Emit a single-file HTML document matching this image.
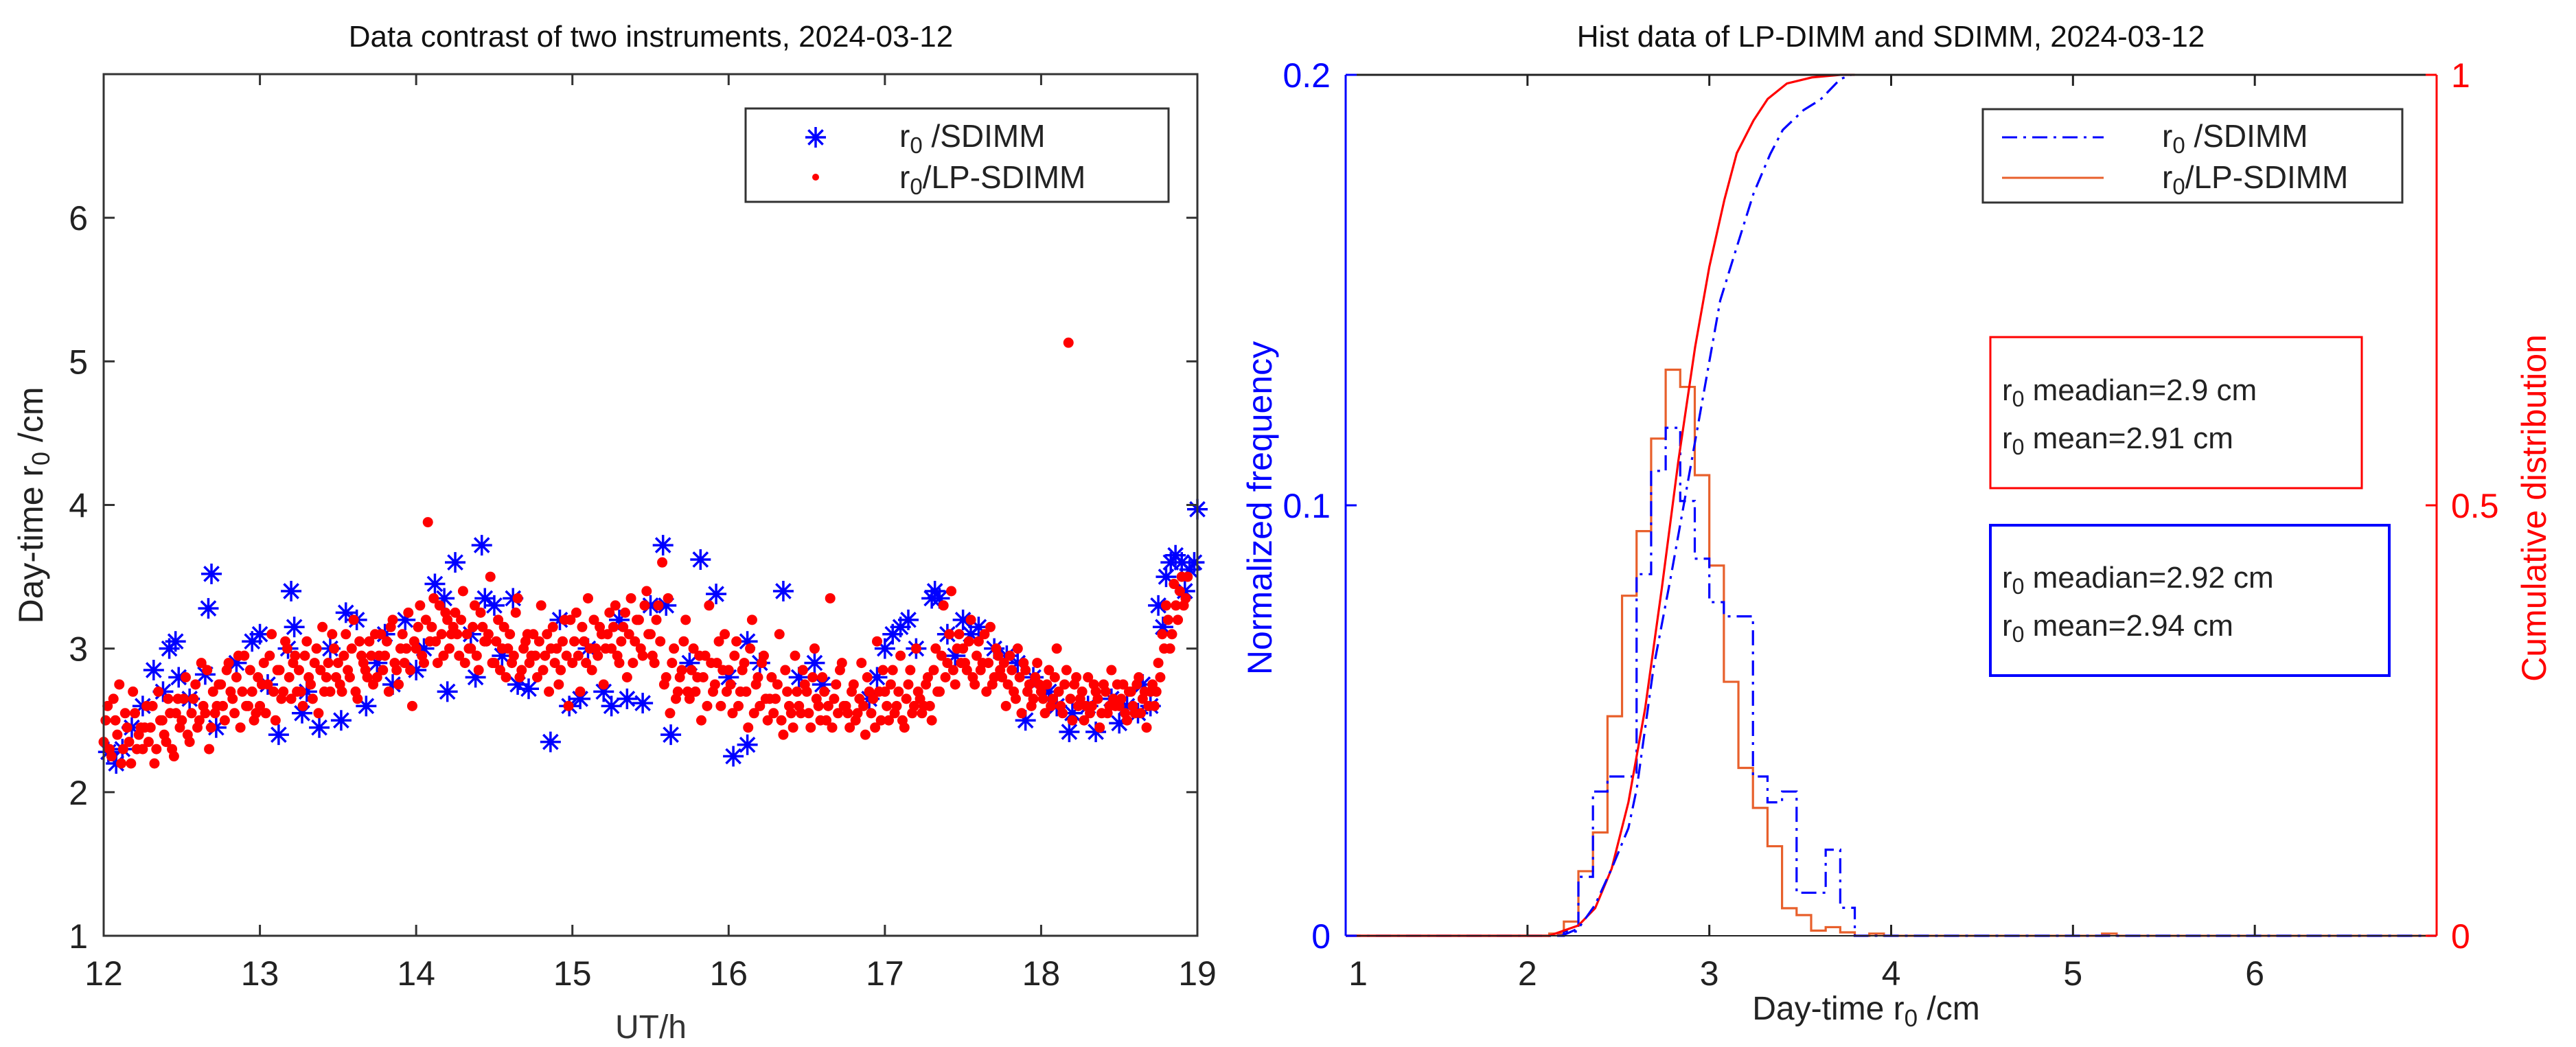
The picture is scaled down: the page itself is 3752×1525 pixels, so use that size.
<!DOCTYPE html>
<html><head><meta charset="utf-8">
<style>
html,body{margin:0;padding:0;background:#fff;}
svg{display:block;font-family:"Liberation Sans",sans-serif;}
</style></head>
<body>
<svg id="fig" width="3752" height="1525" viewBox="0 0 3752 1525" xmlns="http://www.w3.org/2000/svg">
<rect x="0" y="0" width="3752" height="1525" fill="#fff"/>
<g id="left"></g>
<g id="right"></g>
</svg>
<script>
// ---------- Left chart data ----------
const redStart = 12.0;
const redStart2 = 12.0125;
const redStep = 0.025;
const redValues = [
2.35,2.6,2.25,2.5,2.75,2.3,2.45,2.2,2.55,2.4,
2.3,2.6,2.45,2.2,2.7,2.5,2.35,2.55,2.25,2.65,
2.5,2.8,2.35,2.65,2.45,2.9,2.55,2.3,2.7,2.6,
2.75,2.5,2.9,2.65,2.8,2.45,2.95,2.6,2.7,2.55,
2.6,2.9,2.75,3.1,2.5,2.85,2.7,3.0,2.65,2.95,
2.85,2.6,3.05,2.75,2.9,2.55,3.15,2.8,2.7,3.0,
2.9,2.7,3.1,2.8,3.2,2.65,2.95,2.85,3.05,2.75,
2.8,3.1,2.95,2.7,3.2,2.85,3.0,2.9,3.25,2.6,
3.0,3.3,2.9,3.88,3.15,3.05,3.3,2.95,3.2,3.1,
3.25,2.95,3.4,3.1,3.0,3.3,2.85,3.15,3.05,3.5,
2.9,3.2,3.0,2.8,3.1,2.95,3.35,2.85,3.05,2.9,
3.1,2.8,3.3,2.95,2.7,3.15,3.0,2.85,3.2,2.6,
2.9,3.25,2.7,3.05,3.35,2.85,3.0,3.15,2.75,3.1,
3.0,3.3,2.9,3.15,2.8,3.35,3.05,3.2,2.95,3.4,
3.1,2.9,3.3,3.6,2.8,2.55,3.0,2.7,2.85,3.2,
2.65,3.0,2.8,2.5,2.95,3.3,2.7,2.9,2.6,3.1,
2.85,2.55,3.05,2.7,2.9,2.45,3.2,2.75,2.6,2.95,
2.5,2.8,2.65,3.1,2.4,2.7,2.55,2.95,2.6,2.85,
2.7,2.45,3.0,2.6,2.8,2.5,3.35,2.65,2.55,2.9,
2.6,2.45,2.75,2.55,2.9,2.4,2.7,2.65,3.05,2.5,
2.7,2.5,2.85,2.6,2.95,2.45,2.75,2.55,3.0,2.65,
2.6,2.8,2.5,3.0,2.7,3.3,2.9,3.4,2.75,3.1,
3.0,2.85,3.2,2.75,3.05,2.9,2.7,3.15,2.8,2.95,
2.8,2.6,2.95,2.7,3.0,2.55,2.85,2.75,2.65,2.9,
2.7,2.55,2.85,2.65,3.0,2.6,2.75,5.13,2.5,2.8,
2.65,2.5,2.8,2.6,2.7,2.45,2.75,2.55,2.85,2.6,
2.6,2.75,2.5,2.7,2.55,2.8,2.65,2.45,2.7,2.6,
2.9,3.1,3.3,3.0,3.45,3.2,3.5,3.35
];
const redValues2 = [
2.5,2.3,2.65,2.4,2.2,2.55,2.35,2.7,2.3,2.45,
2.45,2.35,2.6,2.3,2.5,2.4,2.65,2.3,2.55,2.45,
2.65,2.4,2.55,2.75,2.5,2.6,2.85,2.45,2.55,2.75,
2.6,2.85,2.7,2.55,2.95,2.7,2.6,2.85,2.5,2.8,
2.75,2.55,2.95,2.7,2.85,2.65,3.05,2.8,2.9,2.7,
2.7,2.95,2.8,2.65,3.0,2.85,2.7,2.9,3.1,2.8,
2.75,2.95,2.85,3.0,2.7,3.05,2.9,2.8,2.95,3.1,
2.95,2.85,3.05,3.15,2.9,2.75,3.1,3.0,2.85,3.05,
3.15,2.95,3.2,3.05,3.35,2.9,3.1,3.25,3.0,3.15,
3.1,3.2,2.9,3.0,3.15,2.95,3.25,3.05,3.1,2.9,
3.05,2.85,3.15,3.0,2.9,3.25,2.8,3.0,3.1,2.95,
2.95,3.05,2.85,3.1,3.0,2.9,2.75,3.05,2.95,3.2,
3.05,2.95,3.15,2.9,3.0,3.2,2.95,3.1,3.0,3.25,
3.15,2.95,3.05,3.25,3.1,2.9,3.2,3.0,3.3,3.1,
2.95,3.2,3.05,2.75,3.35,2.9,2.65,2.8,3.05,2.7,
2.85,2.7,2.95,2.8,2.6,2.9,2.75,3.05,2.85,2.7,
2.75,2.95,2.6,2.85,2.7,3.0,2.55,2.8,2.9,2.65,
2.65,2.55,2.75,2.5,2.85,2.6,2.45,2.7,2.55,2.75,
2.55,2.8,2.65,2.5,2.7,2.6,2.45,2.75,2.85,2.6,
2.55,2.7,2.5,2.65,2.6,2.8,2.55,2.45,2.7,2.85,
2.6,2.75,2.55,2.7,2.5,2.65,2.85,2.6,2.7,2.55,
2.75,2.6,2.85,2.7,2.95,2.8,3.1,2.85,3.0,2.9,
2.9,3.05,2.8,2.95,2.85,3.1,2.9,2.75,3.0,2.85,
2.9,2.75,2.85,2.65,2.8,2.9,2.7,2.6,2.8,2.75,
2.65,2.75,2.6,2.8,2.7,2.55,2.85,2.65,2.75,2.6,
2.7,2.6,2.55,2.75,2.65,2.55,2.7,2.6,2.65,2.75,
2.65,2.55,2.7,2.6,2.75,2.55,2.7,2.6,2.75,2.7,
2.8,3.0,3.2,3.1,3.3,3.4,3.3,3.5
];
const blueTimes = [12.03,12.08,12.12,12.18,12.25,12.32,12.38,12.42,12.46,12.48,12.55,12.65,12.67,12.69,12.72,12.85,12.95,13.0,13.05,13.12,13.18,13.2,13.22,13.27,13.3,13.38,13.45,13.52,13.55,13.62,13.68,13.75,13.8,13.85,13.93,14.0,14.05,14.12,14.18,14.2,14.25,14.35,14.38,14.42,14.44,14.5,14.55,14.62,14.65,14.72,14.86,14.92,14.98,15.05,15.1,15.2,15.25,15.3,15.35,15.45,15.5,15.58,15.6,15.63,15.75,15.82,15.92,16.0,16.03,16.12,16.12,16.2,16.35,16.45,16.55,16.6,16.9,16.95,17.0,17.05,17.1,17.15,17.2,17.3,17.32,17.35,17.4,17.45,17.5,17.55,17.6,17.7,17.78,17.85,17.9,17.95,18.05,18.1,18.18,18.2,18.3,18.35,18.45,18.5,18.55,18.62,18.65,18.7,18.75,18.78,18.8,18.83,18.86,18.9,18.92,18.95,18.98,19.0];
const blueValues = [2.28,2.2,2.3,2.45,2.6,2.85,2.7,3.0,3.05,2.8,2.65,2.82,3.28,3.52,2.45,2.9,3.05,3.1,2.75,2.4,3.0,3.4,3.15,2.55,2.7,2.45,3.0,2.5,3.25,3.2,2.6,2.9,3.1,2.75,3.2,2.85,3.0,3.45,3.35,2.7,3.6,3.1,2.8,3.72,3.35,3.3,2.95,3.35,2.75,2.72,2.35,3.2,2.6,2.65,3.0,2.7,2.6,3.2,2.65,2.62,3.3,3.72,3.3,2.4,2.9,3.62,3.38,2.8,2.25,2.33,3.05,2.9,3.4,2.8,2.9,2.75,2.65,2.8,3.0,3.1,3.15,3.2,3.0,3.35,3.4,3.35,3.1,2.95,3.2,3.1,3.15,3.0,2.95,2.9,2.5,2.8,2.7,2.6,2.42,2.55,2.6,2.42,2.65,2.48,2.6,2.55,2.75,2.6,3.3,3.15,3.5,3.6,3.65,3.6,3.4,3.55,3.6,3.97];
const leftXTicks = [12,13,14,15,16,17,18,19];
const leftYTicks = [1,2,3,4,5,6];

// ---------- Right chart data ----------
const binStart = 2.12;
const binWidth = 0.08;
const lpFreq = [0.0005,0.0033,0.015,0.024,0.051,0.079,0.094,0.1155,0.1315,0.1275,0.107,0.086,0.059,0.039,0.0297,0.0208,0.0064,0.0048,0.0012,0.002,0.0008,0,0.0005,0,0,0,0,0,0,0,0,0,0,0,0,0,0,0,0.0005,0];
const sdFreq = [0,0.001,0.0137,0.0335,0.037,0.037,0.084,0.108,0.118,0.101,0.0876,0.0775,0.0742,0.0742,0.037,0.031,0.0335,0.010,0.010,0.020,0.0065,0,0,0,0,0,0,0,0,0,0,0,0,0,0,0,0,0,0,0];
const lpCdfX = [1,2.119,2.28,2.372,2.463,2.555,2.647,2.739,2.83,2.922,3.0,3.083,3.151,3.243,3.321,3.427,3.564,3.72,3.8];
const lpCdfY = [0,0,0.012,0.032,0.078,0.155,0.264,0.404,0.552,0.684,0.777,0.855,0.909,0.947,0.972,0.99,0.997,1.0,1.0];
const sdCdfX = [2.188,2.28,2.372,2.463,2.555,2.601,2.693,2.784,2.876,2.968,3.06,3.151,3.243,3.335,3.404,3.518,3.61,3.72,3.78];
const sdCdfY = [0,0.0085,0.036,0.078,0.125,0.171,0.311,0.412,0.52,0.629,0.738,0.8,0.862,0.908,0.936,0.959,0.971,0.995,1.0];
const rightXTicks = [1,2,3,4,5,6];
const freqTicks = [0,0.1,0.2];
const freqTickLabels = ['0','0.1','0.2'];
const cdfTicks = [0,0.5,1];
const cdfTickLabels = ['0','0.5','1'];

const NS='http://www.w3.org/2000/svg';
function mk(parent, tag, attrs, text){
  const e=document.createElementNS(NS,tag);
  for(const k in attrs) e.setAttribute(k,attrs[k]);
  if(text!==undefined) e.textContent=text;
  parent.appendChild(e); return e;
}
function r0Label(parent, x, y, size, suffix, anchor, fill, extra){
  const t=mk(parent,'text',Object.assign({x:x,y:y,'font-size':size,fill:fill||'#222','text-anchor':anchor||'start'},extra||{}));
  const a=document.createElementNS(NS,'tspan'); a.textContent='r'; t.appendChild(a);
  const b=document.createElementNS(NS,'tspan'); b.setAttribute('dy',Math.round(size*0.2)); b.setAttribute('font-size',Math.round(size*0.72)); b.textContent='0'; t.appendChild(b);
  const c=document.createElementNS(NS,'tspan'); c.setAttribute('dy',-Math.round(size*0.2)); c.textContent=suffix; t.appendChild(c);
  return t;
}

// ===== LEFT =====
const L = document.getElementById('left');
const lx0=151, lx1=1744, ly0=108, ly1=1363;
const lxs = v => lx0 + (v-12)/(19-12)*(lx1-lx0);
const lys = v => ly1 - (v-1)/(7-1)*(ly1-ly0);

let t=mk(L,'text',{x:948,y:68,'font-size':44,'text-anchor':'middle',fill:'#111'},'Data contrast of two instruments, 2024-03-12');



const starG=mk(L,'g',{stroke:'#0000ff','stroke-width':3.5,fill:'none'});


function star(g,cx,cy,r){
  const d=r*0.707;
  return mk(g,'path',{d:`M${cx-r},${cy}H${cx+r}M${cx},${cy-r}V${cy+r}M${cx-d},${cy-d}L${cx+d},${cy+d}M${cx-d},${cy+d}L${cx+d},${cy-d}`});
}
blueTimes.forEach((tt,i)=>{
  const s=star(starG,lxs(tt),lys(blueValues[i]),15);
  
  
});
const dotsG=mk(L,'g',{});


redValues.forEach((v,i)=>{
  const c=mk(dotsG,'circle',{cx:lxs(redStart+i*redStep),cy:lys(v),r:7.5,fill:'#ff0000'});
  
  
});
redValues2.forEach((v,i)=>{
  const c=mk(dotsG,'circle',{cx:lxs(redStart2+i*redStep),cy:lys(v),r:7.5,fill:'#ff0000'});
  
  
});

const lax=mk(L,'rect',{x:lx0,y:ly0,width:lx1-lx0,height:ly1-ly0,fill:'none',stroke:'#333','stroke-width':3});


leftXTicks.forEach(v=>{
  const x=lxs(v);
  mk(L,'line',{x1:x,y1:ly1,x2:x,y2:ly1-16,stroke:'#333','stroke-width':3});
  mk(L,'line',{x1:x,y1:ly0,x2:x,y2:ly0+16,stroke:'#333','stroke-width':3});
  const tl=mk(L,'text',{x:x,y:1435,'font-size':50,'text-anchor':'middle',fill:'#222'},String(v));
  
  
});
leftYTicks.forEach(v=>{
  const y=lys(v);
  mk(L,'line',{x1:lx0,y1:y,x2:lx0+16,y2:y,stroke:'#333','stroke-width':3});
  mk(L,'line',{x1:lx1,y1:y,x2:lx1-16,y2:y,stroke:'#333','stroke-width':3});
  const tl=mk(L,'text',{x:128,y:y+18,'font-size':50,'text-anchor':'end',fill:'#222'},String(v));
  
  
});
t=mk(L,'text',{x:948,y:1512,'font-size':48,'text-anchor':'middle',fill:'#333'},'UT/h');


t=r0Label(L,0,0,50,' /cm','middle','#222',{transform:'translate(62,736) rotate(-90)'});
t.insertBefore((()=>{const s=document.createElementNS(NS,'tspan');s.textContent='Day-time ';return s;})(), t.firstChild);



// left legend
const lg=mk(L,'g',{});


mk(lg,'rect',{x:1086,y:158,width:616,height:136,fill:'#fff',stroke:'#333','stroke-width':3});
const ls=star(lg,1188,200,15); ls.setAttribute('stroke','#0000ff'); ls.setAttribute('stroke-width',3.5);


const ld=mk(lg,'circle',{cx:1188,cy:258,r:5,fill:'#ff0000'});


t=r0Label(lg,1310,214,46,' /SDIMM');  
t=r0Label(lg,1310,274,46,'/LP-SDIMM');  

// ===== RIGHT =====
const R=document.getElementById('right');
const rx0=1960, rx1=3549, ry0=109, ry1=1363;
const rxs = v => rx0 + (v-1)/(7-1)*(rx1-rx0);
const fys = v => ry1 - v/0.2*(ry1-ry0);
const cys = v => ry1 - v*(ry1-ry0);

t=mk(R,'text',{x:2754,y:68,'font-size':44,'text-anchor':'middle',fill:'#111'},'Hist data of LP-DIMM and SDIMM, 2024-03-12');



function stepPath(freqs){
  let d=`M${rxs(1)},${fys(0)}H${rxs(binStart)}`;
  freqs.forEach((f,i)=>{
    const a=binStart+i*binWidth, b=a+binWidth;
    d+=`V${fys(f)}H${rxs(b)}`;
  });
  d+=`V${fys(0)}H${rxs(7)}`;
  return d;
}
let p=mk(R,'path',{d:stepPath(lpFreq),fill:'none',stroke:'#e8602c','stroke-width':3.2});


p=mk(R,'path',{d:stepPath(sdFreq),fill:'none',stroke:'#0000ff','stroke-width':3.2,'stroke-dasharray':'22 9 4 9'});


function linePath(xs,ys){return xs.map((x,i)=>(i?'L':'M')+rxs(x)+','+cys(ys[i])).join('');}
p=mk(R,'path',{d:linePath(lpCdfX,lpCdfY),fill:'none',stroke:'#ff0000','stroke-width':3.2});


p=mk(R,'path',{d:linePath(sdCdfX,sdCdfY),fill:'none',stroke:'#0000ff','stroke-width':3.2,'stroke-dasharray':'22 9 4 9'});



// axes
mk(R,'line',{x1:rx0,y1:ry0,x2:rx1,y2:ry0,stroke:'#222','stroke-width':3});
mk(R,'line',{x1:rx0,y1:ry1,x2:rx1,y2:ry1,stroke:'#222','stroke-width':2});
let ax=mk(R,'line',{x1:rx0,y1:ry0,x2:rx0,y2:ry1,stroke:'#0000ff','stroke-width':3});


ax=mk(R,'line',{x1:rx1,y1:ry0,x2:rx1,y2:ry1,stroke:'#ff0000','stroke-width':3});


rightXTicks.forEach(v=>{
  const x=rxs(v);
  if(v>1){
    mk(R,'line',{x1:x,y1:ry1,x2:x,y2:ry1-16,stroke:'#222','stroke-width':3});
    mk(R,'line',{x1:x,y1:ry0,x2:x,y2:ry0+16,stroke:'#222','stroke-width':3});
  }
  const tl=mk(R,'text',{x:v===1?x+18:x,y:1435,'font-size':50,'text-anchor':'middle',fill:'#222'},String(v));
  
  
});
freqTicks.forEach((v,i)=>{
  const y=fys(v);
  mk(R,'line',{x1:rx0,y1:y,x2:rx0+16,y2:y,stroke:'#0000ff','stroke-width':3});
  const tl=mk(R,'text',{x:1938,y:y+18,'font-size':50,'text-anchor':'end',fill:'#0000ff'},freqTickLabels[i]);
  
  
});
cdfTicks.forEach((v,i)=>{
  const y=cys(v);
  mk(R,'line',{x1:rx1,y1:y,x2:rx1-16,y2:y,stroke:'#ff0000','stroke-width':3});
  const tl=mk(R,'text',{x:3570,y:y+18,'font-size':50,'text-anchor':'start',fill:'#ff0000'},cdfTickLabels[i]);
  
  
});
t=mk(R,'text',{x:0,y:0,'font-size':50,'text-anchor':'middle',fill:'#0000ff',transform:'translate(1852,740) rotate(-90)'},'Normalized frequency');


t=mk(R,'text',{x:0,y:0,'font-size':50,'text-anchor':'middle',fill:'#ff0000',transform:'translate(3708,740) rotate(-90)'},'Cumulative distribution');


t=r0Label(R,2718,1485,48,' /cm','middle','#222');
t.insertBefore((()=>{const s=document.createElementNS(NS,'tspan');s.textContent='Day-time ';return s;})(), t.firstChild);



// right legend
const rg=mk(R,'g',{});


mk(rg,'rect',{x:2888,y:159,width:611,height:136,fill:'#fff',stroke:'#333','stroke-width':3});
let ll=mk(rg,'line',{x1:2916,y1:200,x2:3064,y2:200,stroke:'#0000ff','stroke-width':3,'stroke-dasharray':'22 9 4 9'});


ll=mk(rg,'line',{x1:2916,y1:259,x2:3064,y2:259,stroke:'#e8602c','stroke-width':3});


t=r0Label(rg,3149,214,46,' /SDIMM');  
t=r0Label(rg,3149,274,46,'/LP-SDIMM');  

// stats boxes
const sb1=mk(R,'g',{});


mk(sb1,'rect',{x:2899,y:491,width:541,height:220,fill:'#fff',stroke:'#ff0000','stroke-width':3});
r0Label(sb1,2916,583,44,' meadian=2.9 cm');
r0Label(sb1,2916,653,44,' mean=2.91 cm');
const sb2=mk(R,'g',{});


mk(sb2,'rect',{x:2899,y:765,width:581,height:219,fill:'#fff',stroke:'#0000ff','stroke-width':4});
r0Label(sb2,2916,856,44,' meadian=2.92 cm');
r0Label(sb2,2916,926,44,' mean=2.94 cm');
</script>
</body></html>
